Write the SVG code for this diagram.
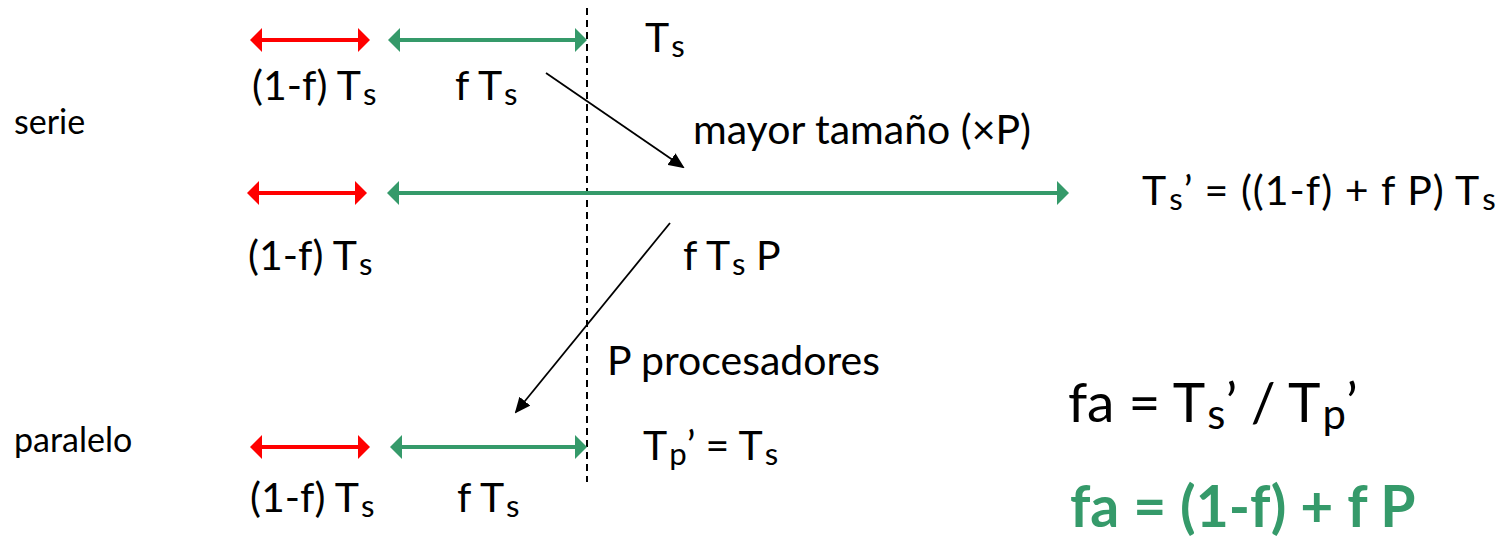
<svg xmlns="http://www.w3.org/2000/svg" width="1499" height="539" viewBox="0 0 1499 539">
<style>
  text { font-family: Lato, "Liberation Sans", sans-serif; fill: #000; }
  .lbl { font-size: 41px; }
  .side { font-size: 34px; }
  .big { font-size: 55px; }
  .res { font-size: 57px; font-weight: bold; fill: #359A6A; }
  .sub { font-size: 0.76em; }
  .red { stroke: #FF0000; stroke-width: 4; fill: none; marker-start: url(#hr); marker-end: url(#hr); }
  .grn { stroke: #359A6A; stroke-width: 4; fill: none; marker-start: url(#hg); marker-end: url(#hg); }
  .blk { stroke: #000; stroke-width: 1.8; fill: none; marker-end: url(#hb); }
  .dash { stroke: #000; stroke-width: 2; stroke-dasharray: 7 5; fill: none; }
</style>
<defs>
  <marker id="hr" viewBox="0 -12 12 24" markerWidth="12" markerHeight="24" refX="4" refY="0" orient="auto-start-reverse" markerUnits="userSpaceOnUse">
    <path d="M0,-12 L12,0 L0,12 z" fill="#FF0000"/>
  </marker>
  <marker id="hg" viewBox="0 -12 12 24" markerWidth="12" markerHeight="24" refX="4" refY="0" orient="auto-start-reverse" markerUnits="userSpaceOnUse">
    <path d="M0,-12 L12,0 L0,12 z" fill="#359A6A"/>
  </marker>
  <marker id="hb" viewBox="0 -7 16 14" markerWidth="16" markerHeight="14" refX="14" refY="0" orient="auto" markerUnits="userSpaceOnUse">
    <path d="M0,-7 L16,0 L0,7 z" fill="#000"/>
  </marker>
</defs>

<g id="connectors">
  <line class="dash" x1="587" y1="8" x2="587" y2="482"/>
  <line class="red" x1="258" y1="40" x2="362" y2="40"/>
  <line class="grn" x1="396" y1="40" x2="579" y2="40"/>
  <line class="red" x1="255" y1="193" x2="359" y2="193"/>
  <line class="grn" x1="395" y1="193" x2="1061" y2="193"/>
  <line class="red" x1="258" y1="447" x2="362" y2="447"/>
  <line class="grn" x1="398" y1="447" x2="579" y2="447"/>
  <line class="blk" x1="546" y1="73" x2="683" y2="167"/>
  <line class="blk" x1="670" y1="223" x2="516" y2="412"/>
</g>

<g id="serie-row">
  <text class="side" x="14" y="134">serie</text>
  <text class="lbl" x="252" y="100">(1-f) T<tspan class="sub" dx="2" dy="5">s</tspan></text>
  <text class="lbl" x="455" y="100">f T<tspan class="sub" dx="2" dy="5">s</tspan></text>
  <text class="lbl" x="645" y="52">T<tspan class="sub" dx="2" dy="5">s</tspan></text>
</g>

<g id="scaled-row">
  <text class="lbl" x="693" y="144">mayor tamaño (×P)</text>
  <text class="lbl" x="248" y="270">(1-f) T<tspan class="sub" dx="2" dy="5">s</tspan></text>
  <text class="lbl" x="683" y="270">f T<tspan class="sub" dx="2" dy="5">s</tspan><tspan dy="-5"> P</tspan></text>
  <text class="lbl" x="1142" y="205" letter-spacing="1">T<tspan class="sub" dx="2" dy="5">s</tspan><tspan dy="-5">’ = ((1-f) + f P) T</tspan><tspan class="sub" dx="2" dy="5">s</tspan></text>
</g>

<g id="paralelo-row">
  <text class="lbl" x="607" y="375">P procesadores</text>
  <text class="side" x="14" y="452">paralelo</text>
  <text class="lbl" x="643" y="460">T<tspan class="sub" dx="2" dy="5">p</tspan><tspan dy="-5">’ = T</tspan><tspan class="sub" dx="2" dy="5">s</tspan></text>
  <text class="lbl" x="250" y="512">(1-f) T<tspan class="sub" dx="2" dy="5">s</tspan></text>
  <text class="lbl" x="457" y="512">f T<tspan class="sub" dx="2" dy="5">s</tspan></text>
</g>

<g id="formulas">
  <text class="big" x="1068" y="422">fa = T<tspan class="sub" dx="2" dy="7">s</tspan><tspan dy="-7">’ / T</tspan><tspan class="sub" dx="2" dy="7">p</tspan><tspan dy="-7">’</tspan></text>
  <text class="res" x="1070" y="527">fa = (1-f) + f P</text>
</g>
</svg>
